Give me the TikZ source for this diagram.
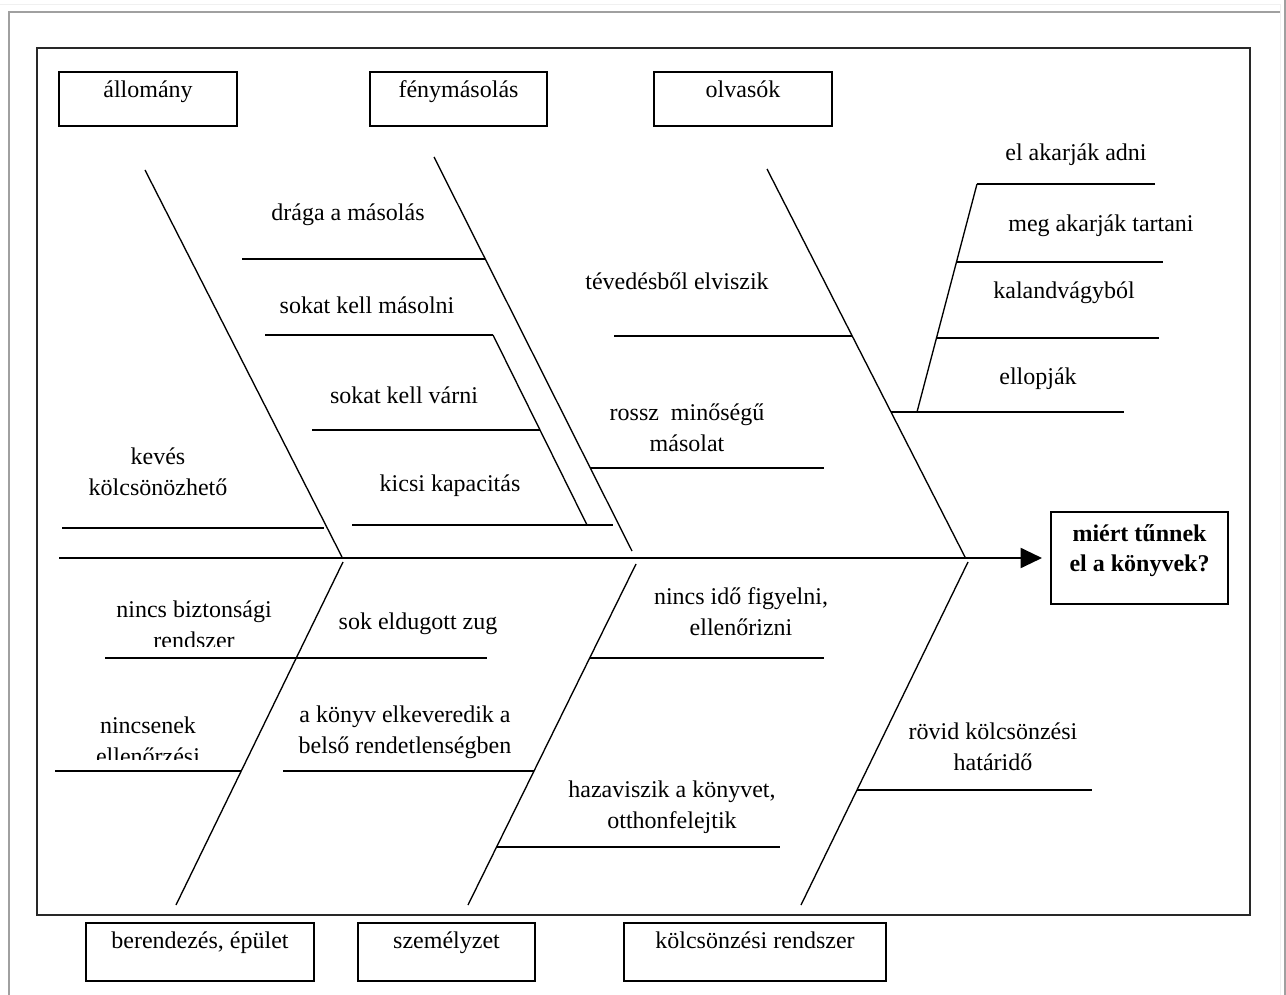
\documentclass[tikz,border=0pt]{standalone}
\usepackage{fontspec}
\setmainfont{Liberation Serif}
\usetikzlibrary{arrows.meta}

\newcommand{\causefont}{\fontsize{18}{23}\selectfont}

\tikzset{every picture/.style={line width=0.75pt}}
\tikzset{
  bone/.style={line width=1pt},
  twig/.style={line width=1.5pt},
  frame/.style={line width=1.5pt, color={rgb, 255:red, 40; green, 40; blue, 40}},
  cause/.style={font=\causefont, align=center, inner sep=0pt},
  catboxT/.style={draw, line width=1.5pt, font=\causefont, inner sep=0pt, text height=19.5pt, text depth=21pt},
  catboxB/.style={draw, line width=1.5pt, font=\causefont, inner sep=0pt, text height=18.75pt, text depth=24.75pt},
}

\begin{document}
\begin{tikzpicture}[x=0.75pt,y=0.75pt,yscale=-1,xscale=1]
\useasboundingbox (0,0) rectangle (1286,995);

%Window border
\coordinate (wTL) at (9,12);
\coordinate (wTR) at (1280,12);
\coordinate (wBL) at (9,995);
\coordinate (lTL) at (0,5);
\coordinate (lTR) at (1280,5);
\coordinate (lBR) at (1280,995);
\coordinate (gTR) at (1285,0);
\coordinate (gBR) at (1285,995);
\draw [color={rgb, 255:red, 240; green, 240; blue, 240 }] (lTL) -- (lTR) -- (lBR) ;
\draw [color={rgb, 255:red, 160; green, 160; blue, 160 }, line width=1.5pt] (wBL) -- (wTL) -- (wTR) ;
\draw [color={rgb, 255:red, 160; green, 160; blue, 160 }, line width=1.5pt] (gTR) -- (gBR) ;

%Shape: Rectangle (frame)
\coordinate (frTL) at (37,48);
\coordinate (frBR) at (1250,915);
\draw [frame] (frTL) rectangle (frBR) ;

%Main bones
\coordinate (allT) at (145,170);
\coordinate (allS) at (342,557);
\coordinate (fenyT) at (434,157);
\coordinate (fenyS) at (632,551);
\coordinate (olvT) at (767,169);
\coordinate (olvS) at (965,557);
\coordinate (berS) at (343,562);
\coordinate (berB) at (176,905);
\coordinate (szemS) at (636,564);
\coordinate (szemB) at (468,905);
\coordinate (kolS) at (968,562);
\coordinate (kolB) at (801,905);
\draw [bone] (allT) -- (allS) ;
\draw [bone] (fenyT) -- (fenyS) ;
\draw [bone] (olvT) -- (olvS) ;
\draw [bone] (berS) -- (berB) ;
\draw [bone] (szemS) -- (szemB) ;
\draw [bone] (kolS) -- (kolB) ;

%Sub bones
\coordinate (masolniR) at (493,335);
\coordinate (kicsiJ) at (587,525);
\coordinate (ellopJ) at (917,412);
\coordinate (adniL) at (977,184);
\draw [bone] (masolniR) -- (kicsiJ) ;
\draw [bone] (ellopJ) -- (adniL) ;

%Straight Lines (causes)
\coordinate (kevesL) at (62,528);      \coordinate (kevesR) at (324,528);
\coordinate (dragaL) at (242,259);     \coordinate (dragaR) at (485,259);
\coordinate (masolniL) at (265,335);
\coordinate (varniL) at (312,430);     \coordinate (varniR) at (540,430);
\coordinate (kicsiL) at (352,525);     \coordinate (kicsiR) at (613,525);
\coordinate (tevedL) at (614,336);     \coordinate (tevedR) at (852,336);
\coordinate (rosszL) at (590,468);     \coordinate (rosszR) at (824,468);
\coordinate (ellopL) at (891,412);     \coordinate (ellopR) at (1124,412);
\coordinate (adniR) at (1155,184);
\coordinate (megL) at (957,262);       \coordinate (megR) at (1163,262);
\coordinate (kalandL) at (937,338);    \coordinate (kalandR) at (1159,338);
\coordinate (biztL) at (105,658);      \coordinate (biztR) at (487,658);
\coordinate (ellenL) at (55,771);      \coordinate (ellenR) at (241,771);
\coordinate (elkevL) at (283,771);     \coordinate (elkevR) at (534,771);
\coordinate (idoL) at (590,658);       \coordinate (idoR) at (824,658);
\coordinate (hazaL) at (497,847);      \coordinate (hazaR) at (780,847);
\coordinate (rovidL) at (857,790);     \coordinate (rovidR) at (1092,790);
\draw [twig] (kevesL) -- (kevesR) ;
\draw [twig] (dragaL) -- (dragaR) ;
\draw [twig] (masolniL) -- (masolniR) ;
\draw [twig] (varniL) -- (varniR) ;
\draw [twig] (kicsiL) -- (kicsiR) ;
\draw [twig] (tevedL) -- (tevedR) ;
\draw [twig] (rosszL) -- (rosszR) ;
\draw [twig] (ellopL) -- (ellopR) ;
\draw [twig] (adniR) -- (adniL) ;
\draw [twig] (megL) -- (megR) ;
\draw [twig] (kalandL) -- (kalandR) ;
\draw [twig] (biztL) -- (biztR) ;
\draw [twig] (ellenL) -- (ellenR) ;
\draw [twig] (elkevL) -- (elkevR) ;
\draw [twig] (idoL) -- (idoR) ;
\draw [twig] (hazaL) -- (hazaR) ;
\draw [twig] (rovidL) -- (rovidR) ;

%Spine with arrow
\coordinate (spineL) at (59,558);
\coordinate (spineR) at (1042,558);
\draw [twig, -{Triangle[length=16pt,width=15pt]}] (spineL) -- (spineR) ;

% Effect box
\node [draw, line width=1.5pt, minimum width=132.75pt, minimum height=69pt, inner sep=0pt] (effect) at (1139.5,558) {};
\node [cause, font=\causefont\bfseries] (effectTxt) at (1139.5,550.5) {miért tűnnek\\el a könyvek?};

% Category boxes
\node [catboxT, minimum width=133.5pt] (allomany) at (148,99) {állomány};
\node [catboxT, minimum width=132.75pt] (fenymasolas) at (458.5,99) {fénymásolás};
\node [catboxT, minimum width=133.5pt] (olvasok) at (743,99) {olvasók};
\node [catboxB, minimum width=171pt] (berendezes) at (200,952) {berendezés, épület};
\node [catboxB, minimum width=132.75pt] (szemelyzet) at (446.5,952) {személyzet};
\node [catboxB, minimum width=196.5pt] (kolcsonzes) at (755,952) {kölcsönzési rendszer};

% Text Node
\node [cause] (draga) at (348,215) {drága a másolás};
\node [cause] (masolni) at (367,305) {sokat kell másolni};
\node [cause] (varni) at (404,395) {sokat kell várni};
\node [cause] (kicsi) at (450,486) {kicsi kapacitás};
\node [cause] (keves) at (158,472) {kevés\\kölcsönözhető};
\node [cause] (teved) at (677,281) {tévedésből elviszik};
\node [cause] (rossz) at (687,427.5) {rossz\ \ minőségű\\másolat};
\node [cause] (adni) at (1076,155) {el akarják adni};
\node [cause] (tartani) at (1101,226) {meg akarják tartani};
\node [cause] (kaland) at (1064,293) {kalandvágyból};
\node [cause] (ellop) at (1038,379) {ellopják};
\node [cause] (zug) at (418,624) {sok eldugott zug};
\node [cause] (konyv) at (405,732) {a könyv elkeveredik a\\belső rendetlenségben};
\node [cause] (ido) at (741,611.5) {nincs idő figyelni,\\ellenőrizni};
\node [cause] (haza) at (672,807) {hazaviszik a könyvet,\\otthonfelejtik};
\node [cause] (rovid) at (993,747) {rövid kölcsönzési\\határidő};
% Text Node (cut off by its box)
\begin{scope}
\clip (60,580) rectangle (330,646);
\node [cause] (bizt) at (194,625) {nincs biztonsági\\rendszer};
\end{scope}
\begin{scope}
\clip (60,700) rectangle (240,759);
\node [cause] (ellen) at (148,741) {nincsenek\\ellenőrzési};
\end{scope}

\end{tikzpicture}
\end{document}
